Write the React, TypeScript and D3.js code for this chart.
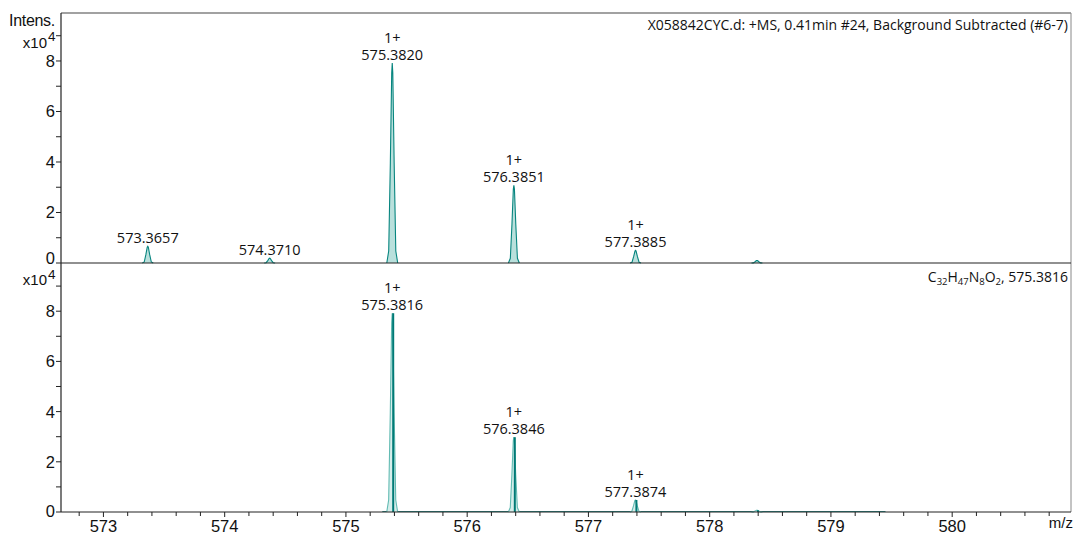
import * as d3 from 'd3';

// m/z axis
const mzTicks = [573, 574, 575, 576, 577, 578, 579, 580];
const intTicks = [0, 2, 4, 6, 8];

// measured spectrum (intensity in x10^4)
const measMz = [573.3657, 574.371, 575.382, 576.3851, 577.3885, 578.39];
const measInt = [0.66, 0.19, 7.92, 3.08, 0.5, 0.1];
const measLabel = ['573.3657', '574.3710', '575.3820', '576.3851', '577.3885', ''];
const measCharge = ['', '', '1+', '1+', '1+', ''];

// simulated isotope pattern
const simMz = [575.3816, 576.3846, 577.3874, 578.39];
const simInt = [7.92, 2.98, 0.48, 0.07];
const simLabel = ['575.3816', '576.3846', '577.3874', ''];
const simCharge = ['1+', '1+', '1+', ''];

const W = 1073;
const H = 535;
const L = 61;
const R = 1071;
const TOP1 = 13;
const BASE1 = 263;
const BASE2 = 512;

// relative peak profile (shape only)
const profile: [number, number][] = [
  [-1, 0], [-0.65, 0.06], [-0.35, 0.5], [-0.1, 0.95], [0, 1], [0.1, 0.95], [0.35, 0.5], [0.65, 0.06], [1, 0],
];
const HALF = 0.045;

const axisFont = '"Liberation Sans", Arial, sans-serif';
const labelFont = '"Open Sans", sans-serif';

function Panel({ y, mz, inten, labels, charges, sim, zeroShift }: any) {
  const x = d3.scaleLinear().domain([572.65, 580.98]).range([L, R]);
  const area = d3
    .area<[number, number]>()
    .x((d) => d[0])
    .y0(y(0))
    .y1((d) => d[1]);
  const line = d3
    .line<[number, number]>()
    .x((d) => d[0])
    .y((d) => d[1]);
  const minor = d3.range(1, 10, 2);
  return (
    <g>
      {sim && (
        <line x1={x(575.3)} x2={x(579.45)} y1={y(0) - 0.5} y2={y(0) - 0.5} stroke="#2e8f8a" strokeWidth={1} />
      )}
      {mz.map((m: number, i: number) => {
        const pts = profile.map(([dx, f]) => [x(m + dx * HALF), y(inten[i] * f)] as [number, number]);
        return (
          <g key={i}>
            <path d={area(pts) || ''} fill={sim ? '#d6eeeb' : '#b9e0dc'} />
            <path d={line(pts) || ''} fill="none" stroke={sim ? '#62bbb3' : '#07857f'} strokeWidth={1.1} />
            {sim && (
              <line x1={x(m) + 1} x2={x(m) + 1} y1={y(0)} y2={y(inten[i])} stroke="#007a76" strokeWidth={2} />
            )}
            {labels[i] && (
              <text x={x(m)} y={y(inten[i]) - 3} textAnchor="middle" fontFamily={labelFont} fontSize={14.5} fill="#111">
                {labels[i]}
              </text>
            )}
            {charges[i] && (
              <text x={x(m)} y={y(inten[i]) - 20} textAnchor="middle" fontFamily={labelFont} fontSize={14.5} fill="#111">
                {charges[i]}
              </text>
            )}
          </g>
        );
      })}
      {/* y axis */}
      <line x1={L} x2={L} y1={y.range()[1]} y2={y(0)} stroke="#222" strokeWidth={1.2} />
      {intTicks.map((t) => (
        <g key={t}>
          <line x1={L - 5} x2={L} y1={y(t)} y2={y(t)} stroke="#222" />
          <text
            x={L - 6}
            y={y(t) + 6 - (t === 0 ? zeroShift : 0)}
            textAnchor="end"
            fontFamily={axisFont}
            fontSize={16.5}
            fill="#111"
          >
            {t}
          </text>
        </g>
      ))}
      {minor.map((t) => (
        <line key={t} x1={L - 5} x2={L} y1={y(t)} y2={y(t)} stroke="#222" />
      ))}
      <line x1={L} x2={R} y1={y(0)} y2={y(0)} stroke="#222" strokeWidth={1.2} />
    </g>
  );
}

export default function App() {
  const x = d3.scaleLinear().domain([572.65, 580.98]).range([L, R]);
  const y1 = d3.scaleLinear().domain([0, 9.9]).range([BASE1, TOP1]);
  const y2 = d3.scaleLinear().domain([0, 9.92]).range([BASE2, BASE1]);
  const minorX = d3.range(572.8, 581, 0.2).filter((v) => Math.abs(v - Math.round(v)) > 0.01 && x(v) <= R);
  return (
    <svg width={W} height={H} style={{ position: 'absolute', left: 0, top: 0, display: 'block', background: '#fff' }}>
      <rect x={0} y={0} width={W} height={H} fill="#fff" />
      {/* frame */}
      <line x1={L} x2={R} y1={TOP1} y2={TOP1} stroke="#444" strokeWidth={1.2} />
      <line x1={R} x2={R} y1={TOP1} y2={BASE2} stroke="#888" strokeWidth={1} />
      <Panel y={y1} mz={measMz} inten={measInt} labels={measLabel} charges={measCharge} sim={false} zeroShift={5.5} />
      <Panel y={y2} mz={simMz} inten={simInt} labels={simLabel} charges={simCharge} sim={true} zeroShift={1} />

      {/* x axis */}
      {mzTicks.map((t) => (
        <g key={t}>
          <line x1={x(t)} x2={x(t)} y1={BASE2} y2={BASE2 + 5} stroke="#222" />
          <text x={x(t)} y={BASE2 + 20} textAnchor="middle" fontFamily={axisFont} fontSize={16.5} fill="#111">
            {t}
          </text>
        </g>
      ))}
      {minorX.map((t) => (
        <line key={t} x1={x(t)} x2={x(t)} y1={BASE2} y2={BASE2 + 4} stroke="#222" />
      ))}
      <text x={1073} y={BASE2 + 16} textAnchor="end" fontFamily={axisFont} fontSize={15} fill="#111">
        m/z
      </text>

      {/* y labels */}
      <text x={9} y={26} fontFamily={axisFont} fontSize={16} fill="#111" letterSpacing={-0.3}>
        Intens.
      </text>
      <text x={47} y={48} textAnchor="end" fontFamily={axisFont} fontSize={15} fill="#111">
        x10
      </text>
      <text x={48} y={41} fontFamily={axisFont} fontSize={13.5} fill="#111">
        4
      </text>
      <text x={47} y={285} textAnchor="end" fontFamily={axisFont} fontSize={15} fill="#111">
        x10
      </text>
      <text x={48} y={279} fontFamily={axisFont} fontSize={13.5} fill="#111">
        4
      </text>

      {/* titles */}
      <text x={1068} y={30} textAnchor="end" fontFamily={labelFont} fontSize={14} fill="#111">
        X058842CYC.d: +MS, 0.41min #24, Background Subtracted (#6-7)
      </text>
      <text x={1068} y={282} textAnchor="end" fontFamily={labelFont} fontSize={14} fill="#111">
        C<tspan fontSize={9.5} dy={3}>32</tspan>
        <tspan dy={-3}>H</tspan>
        <tspan fontSize={9.5} dy={3}>47</tspan>
        <tspan dy={-3}>N</tspan>
        <tspan fontSize={9.5} dy={3}>8</tspan>
        <tspan dy={-3}>O</tspan>
        <tspan fontSize={9.5} dy={3}>2</tspan>
        <tspan dy={-3}>, 575.3816</tspan>
      </text>
    </svg>
  );
}
